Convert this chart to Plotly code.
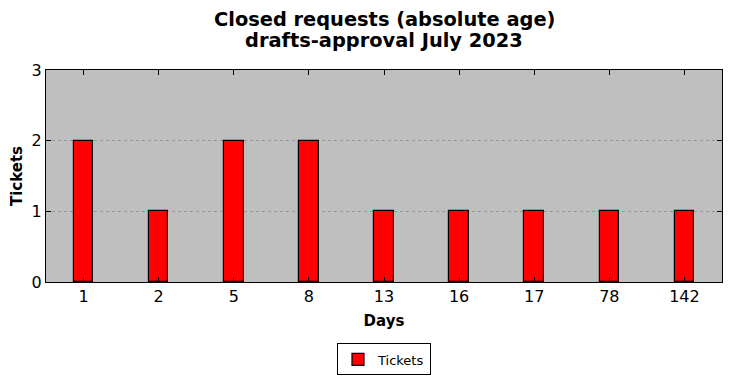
import plotly.graph_objects as go

days = ["1", "2", "5", "8", "13", "16", "17", "78", "142"]
tickets = [2, 1, 2, 2, 1, 1, 1, 1, 1]
title_lines = ["Closed requests (absolute age)", "drafts-approval July 2023"]

fig = go.Figure()
fig.add_trace(go.Bar(
    x=days, y=tickets, name="Tickets", width=0.26,
    marker=dict(color="#ff0000", line=dict(color="black", width=1.2)),
    showlegend=True,
))

font_family = "DejaVu Sans"
# page has an 8px body margin, so the figure is drawn 8px smaller and offset
fig.update_layout(
    width=723, height=370,
    margin=dict(l=38, r=9, t=62, b=96, autoexpand=False),
    paper_bgcolor="white",
    plot_bgcolor="#bfbfbf",
    font=dict(family=font_family, color="black"),
    legend=dict(
        orientation="h", x=0.5, xanchor="center", y=-0.29, yanchor="top",
        bordercolor="black", borderwidth=1, bgcolor="white",
        font=dict(size=13, family=font_family),
    ),
    bargap=0,
)
# title lines: centres at 19 and 41 px from the top of the window (plot top at 70)
for line, ypix in zip(title_lines, [19, 41]):
    fig.add_annotation(
        text="<b>" + line + "</b>",
        xref="paper", yref="paper", x=0.5, y=1 + (70 - ypix) / 212,
        xanchor="center", yanchor="middle", showarrow=False,
        font=dict(size=19.4, family=font_family, color="black"),
    )
fig.update_xaxes(
    type="category", range=[-0.5, 8.5], automargin=False,
    showline=True, linecolor="black", linewidth=1.2, mirror="ticks",
    ticks="inside", ticklen=5, tickcolor="black",
    tickfont=dict(size=16, family=font_family),
    showgrid=False,
    title=dict(text="<b>Days</b>", font=dict(size=15, family=font_family), standoff=10),
)
fig.update_yaxes(
    range=[0, 3], dtick=1, automargin=False,
    showline=True, linecolor="black", linewidth=1.2, mirror="ticks",
    ticks="inside", ticklen=5, tickcolor="black",
    tickfont=dict(size=16, family=font_family),
    showgrid=True, gridcolor="#959595", griddash="dot", gridwidth=1,
    zeroline=False,
    title=dict(text="<b>Tickets</b>", font=dict(size=15, family=font_family), standoff=12),
)

fig.write_html("out.html")
